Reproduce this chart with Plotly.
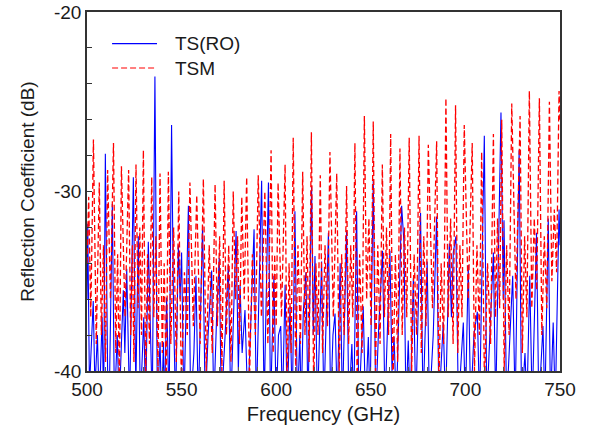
import plotly.graph_objects as go

# ---- data ----
ts_ro_freq = [500.0, 500.4, 501.3, 502.5, 503.3, 504.2, 505.5, 506.5, 508.0, 508.8, 509.7, 511.0, 512.0,
              513.4, 514.5, 516.0, 517.0, 519.2, 520.0, 521.0, 522.5, 524.5, 525.8, 527.1, 528.2, 530.0,
              531.0, 532.4, 533.5, 534.5, 535.9, 537.2, 538.6, 539.5, 540.4, 541.0, 542.1, 543.4, 544.7,
              545.8, 546.8, 548.3, 549.2, 550.0, 551.2, 553.6, 554.8, 556.5, 557.6, 558.8, 561.1, 562.5,
              564.0, 565.9, 567.0, 568.5, 569.9, 571.0, 573.0, 574.7, 576.0, 578.8, 580.0, 580.9, 582.0,
              583.5, 585.0, 586.8, 588.3, 589.5, 590.8, 592.3, 593.6, 595.9, 597.0, 598.8, 600.0, 601.2,
              602.4, 603.3, 604.7, 605.8, 607.3, 608.5, 609.9, 611.2, 612.5, 613.2, 614.3, 615.7, 616.8,
              618.7, 619.6, 620.5, 621.8, 624.0, 625.2, 627.6, 628.8, 630.0, 631.1, 632.3, 633.8, 635.0,
              637.2, 638.4, 640.0, 641.0, 642.5, 643.7, 646.0, 647.2, 648.7, 649.6, 651.3, 652.6, 654.0,
              656.2, 657.5, 660.1, 661.2, 662.3, 663.5, 666.3, 667.5, 668.6, 669.8, 670.8, 672.5, 673.8,
              676.3, 677.6, 679.8, 681.0, 683.0, 684.8, 686.0, 688.3, 689.5, 691.5, 692.6, 693.6, 695.0,
              696.3, 698.9, 700.0, 701.5, 702.8, 704.5, 706.3, 707.5, 710.0, 711.3, 713.0, 714.8, 716.0,
              718.8, 720.0, 720.4, 721.8, 723.5, 725.0, 726.3, 728.4, 729.7, 731.5, 732.5, 734.0, 735.3,
              737.6, 738.8, 741.0, 742.0, 743.8, 745.0, 746.4, 747.5, 749.5, 750.0]
ts_ro_db = [-36.0, -31.8, -41.0, -38.5, -36.1, -41.0, -38.0, -42.0, -37.0, -42.0, -27.9, -41.0, -40.0,
            -30.7, -42.0, -38.0, -42.0, -35.5, -39.0, -34.3, -42.0, -29.2, -41.0, -32.5, -42.0, -37.0,
            -42.0, -32.8, -38.0, -42.0, -23.6, -42.0, -38.4, -42.0, -38.4, -42.0, -35.9, -42.0, -26.3,
            -37.0, -42.0, -33.0, -36.0, -33.4, -42.0, -30.8, -42.0, -39.0, -34.7, -42.0, -31.9, -42.0,
            -38.0, -34.4, -42.0, -37.0, -33.7, -42.0, -38.0, -34.1, -42.0, -32.2, -40.0, -35.2, -39.0,
            -36.6, -42.0, -37.0, -32.1, -42.0, -36.0, -29.4, -42.0, -29.5, -42.0, -34.7, -42.0, -38.0,
            -37.5, -42.0, -35.2, -42.0, -36.4, -42.0, -31.1, -42.0, -38.0, -42.0, -36.8, -34.5, -42.0,
            -29.7, -38.0, -33.6, -42.0, -33.9, -42.0, -32.3, -42.0, -38.0, -36.8, -42.0, -34.0, -42.0,
            -32.2, -42.0, -38.5, -42.0, -31.1, -42.0, -36.4, -42.0, -38.1, -42.0, -29.3, -42.0, -38.0,
            -33.3, -42.0, -33.3, -40.0, -38.1, -42.0, -30.8, -32.8, -42.0, -38.3, -42.0, -34.8, -42.0,
            -31.2, -42.0, -33.9, -42.0, -38.0, -31.4, -42.0, -37.3, -42.0, -32.9, -37.0, -33.4, -32.5,
            -42.0, -37.3, -42.0, -34.1, -42.0, -38.0, -36.7, -42.0, -26.9, -42.0, -38.0, -33.4, -42.0,
            -25.6, -36.0, -31.6, -42.0, -38.0, -34.7, -42.0, -27.7, -42.0, -39.0, -42.0, -34.7, -42.0,
            -32.3, -42.0, -37.5, -42.0, -31.5, -42.0, -37.3, -42.0, -31.0, -33.0]

tsm_freq = [500.0, 500.9, 502.0, 503.4, 504.9, 506.5, 507.6, 508.7, 509.8, 510.9, 512.4, 514.0, 515.2,
            516.2, 517.1, 518.2, 520.1, 522.0, 523.1, 524.0, 524.8, 525.9, 527.0, 527.9, 528.8, 529.8,
            531.0, 532.0, 533.0, 534.2, 535.3, 536.4, 537.5, 538.6, 539.8, 540.8, 541.9, 543.0, 544.3,
            545.8, 547.2, 548.5, 549.9, 551.5, 553.0, 554.4, 556.2, 558.0, 559.8, 561.5, 563.0, 564.6,
            566.2, 567.7, 568.9, 570.1, 571.3, 572.5, 573.7, 574.9, 576.1, 577.3, 578.5, 579.6, 580.6,
            581.8, 583.1, 584.4, 585.9, 587.4, 589.0, 590.5, 592.2, 594.0, 595.6, 597.3, 598.4, 599.2,
            600.0, 601.0, 602.8, 604.7, 605.8, 606.8, 607.9, 609.0, 610.3, 611.5, 612.8, 614.0, 615.2,
            616.3, 617.4, 618.6, 619.8, 621.0, 622.1, 623.3, 624.5, 625.8, 627.1, 628.4, 630.2, 632.0,
            633.3, 634.6, 635.9, 637.2, 638.3, 639.4, 640.5, 641.6, 642.8, 644.1, 645.4, 646.6, 647.8,
            649.0, 650.1, 651.3, 652.5, 653.7, 654.9, 656.1, 657.2, 658.3, 659.4, 660.5, 661.7, 663.0,
            664.2, 665.4, 666.6, 667.8, 669.0, 670.3, 671.6, 672.9, 674.2, 675.5, 676.7, 678.0, 679.2,
            680.4, 682.6, 684.8, 686.0, 687.2, 688.5, 689.7, 690.9, 692.2, 693.5, 694.8, 696.0, 697.1,
            698.2, 699.4, 701.5, 703.6, 704.8, 706.1, 707.4, 708.6, 710.1, 711.7, 713.3, 714.8, 715.9,
            717.0, 718.1, 719.2, 720.5, 721.8, 723.1, 724.5, 726.7, 728.9, 730.1, 731.3, 732.5, 733.8,
            735.1, 736.4, 737.7, 739.1, 740.4, 741.7, 743.0, 744.4, 745.7, 747.0, 748.2, 749.5, 750.0]
tsm_db = [-34.0, -30.3, -37.0, -27.1, -38.5, -29.5, -38.0, -33.0, -39.5, -28.8, -36.0, -27.3, -39.0,
          -33.5, -41.0, -28.6, -37.0, -28.8, -38.0, -33.0, -39.5, -28.5, -36.5, -32.0, -38.0, -27.7,
          -40.5, -33.5, -38.5, -29.2, -37.0, -32.5, -40.0, -29.0, -39.0, -34.0, -41.0, -28.9, -38.5,
          -32.0, -39.5, -30.0, -41.0, -34.5, -38.0, -29.5, -37.5, -30.2, -38.5, -29.3, -40.0, -33.0,
          -39.0, -29.6, -37.5, -32.5, -40.0, -29.4, -38.0, -33.0, -39.5, -30.0, -36.0, -32.5, -38.5,
          -30.3, -36.0, -29.2, -40.5, -33.5, -38.0, -29.1, -37.0, -30.0, -38.5, -27.7, -39.0, -33.5,
          -37.5, -29.5, -37.0, -28.5, -41.0, -34.0, -39.0, -27.0, -40.0, -33.0, -38.5, -28.9, -38.0,
          -32.5, -39.5, -26.7, -41.0, -34.0, -38.0, -29.1, -39.0, -33.0, -37.5, -27.8, -37.0, -29.0,
          -40.0, -33.5, -38.0, -29.7, -38.5, -33.0, -37.0, -27.3, -41.0, -33.5, -39.0, -25.8, -36.0,
          -31.5, -37.5, -26.1, -40.0, -33.0, -38.5, -28.5, -37.0, -32.0, -38.0, -26.8, -41.0, -33.5,
          -39.5, -27.6, -38.0, -32.0, -37.0, -27.0, -40.0, -33.5, -38.0, -26.9, -39.0, -32.5, -37.5,
          -27.4, -36.5, -27.2, -41.0, -34.0, -38.5, -24.8, -37.0, -31.5, -38.5, -25.2, -39.0, -33.0,
          -37.0, -26.3, -36.0, -27.3, -40.0, -33.0, -38.0, -27.8, -41.0, -34.0, -38.5, -26.8, -37.0,
          -31.5, -36.5, -26.0, -40.0, -33.0, -38.0, -25.1, -36.0, -25.8, -39.0, -32.5, -37.0, -24.4,
          -36.5, -31.5, -35.5, -24.8, -38.0, -32.5, -36.5, -25.0, -35.0, -31.0, -34.5, -24.4, -26.0]

x_ticks = [500, 550, 600, 650, 700, 750]
x_tick_text = ["500", "550", "600", "650", "700", "750"]
y_ticks = [-40, -30, -20]
y_tick_text = ["-40", "-30", "-20"]
series_names = ["TS(RO)", "TSM"]
series_colors = ["#0000FF", "#FF0000"]

FONT = "Liberation Sans, Arial, sans-serif"
TXT = "#1a1a1a"

fig = go.Figure()
fig.add_trace(go.Scatter(x=ts_ro_freq, y=ts_ro_db, mode="lines", name=series_names[0],
                         line=dict(color=series_colors[0], width=1.1), showlegend=False))
fig.add_trace(go.Scatter(x=tsm_freq, y=tsm_db, mode="lines", name=series_names[1],
                         line=dict(color=series_colors[1], width=1.3, dash="6px,3px"), showlegend=False))

# hand-placed legend (paper coordinates) to match the reference layout
legend_rows_y = [0.912, 0.844]
legend_dash = ["solid", "6px,3px"]
for name, col, yy, dsh in zip(series_names, series_colors, legend_rows_y, legend_dash):
    fig.add_shape(type="line", xref="paper", yref="paper", x0=0.053, x1=0.148, y0=yy, y1=yy,
                  line=dict(color=col, width=1.1, dash=dsh))
    fig.add_annotation(xref="paper", yref="paper", x=0.182, y=yy, text=name, showarrow=False,
                       xanchor="left", yanchor="middle", font=dict(size=19, family=FONT, color=TXT))

fig.update_layout(
    width=595, height=434,
    margin=dict(l=87, r=35, t=12, b=63),
    paper_bgcolor="white", plot_bgcolor="white",
    font=dict(family=FONT, size=19, color=TXT),
    showlegend=False,
)
fig.update_xaxes(
    range=[500, 750], tickvals=x_ticks, ticktext=x_tick_text,
    ticks="inside", ticklen=4, tickcolor="#555555",
    minor=dict(dtick=10, ticks="inside", ticklen=4, tickcolor="#555555"),
    showline=True, linecolor="#333333", linewidth=1.5, mirror=True,
    showgrid=False, zeroline=False, automargin=False,
    title=dict(text="Frequency (GHz)", font=dict(size=20, family=FONT, color=TXT), standoff=8),
    tickfont=dict(size=19, family=FONT, color=TXT),
)
fig.update_yaxes(
    range=[-40, -20], tickvals=y_ticks, ticktext=y_tick_text,
    ticks="inside", ticklen=5, tickcolor="#333333",
    minor=dict(dtick=2, ticks="inside", ticklen=5, tickcolor="#333333"),
    showline=True, linecolor="#333333", linewidth=1.5, mirror=True,
    showgrid=False, zeroline=False, automargin=False,
    title=dict(text="Reflection Coefficient (dB)", font=dict(size=19, family=FONT, color=TXT), standoff=14),
    tickfont=dict(size=19, family=FONT, color=TXT),
)

fig.write_html("out.html")
